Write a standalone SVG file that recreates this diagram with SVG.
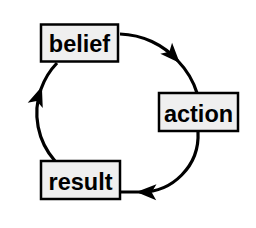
<svg xmlns="http://www.w3.org/2000/svg" width="256" height="228" viewBox="0 0 256 228">
<defs>
<marker id="arr" markerUnits="userSpaceOnUse" markerWidth="24" markerHeight="24" viewBox="-16 -8 18 16" refX="0" refY="0" orient="auto">
<path d="M2,0 L-13,-6 L-9.5,0 L-13,6 Z" fill="#000"/>
</marker>
<style>
.box{fill:#efefef;stroke:#000;stroke-width:2.5}
.lbl{font-family:"Liberation Sans",Arial,sans-serif;font-weight:bold;font-size:23.5px;fill:#000;text-anchor:middle}
.edge{fill:none;stroke:#000;stroke-width:3.2;marker-mid:url(#arr)}
</style>
</defs>
<rect width="256" height="228" fill="#fff"/>
<g id="connectors">
<path class="edge" d="M120,34 A81,81 0 0 1 178,61 A81,81 0 0 1 197,93"/>
<path class="edge" d="M198,132 A57,57 0 0 1 139,192 L120,192"/>
<path class="edge" d="M55,161 A72,72 0 0 1 41,89 A72,72 0 0 1 57,63"/>
</g>
<g id="belief">
<rect class="box" x="41" y="24.5" width="77" height="37"/>
<text class="lbl" x="79.5" y="52">belief</text>
</g>
<g id="action">
<rect class="box" x="159" y="93" width="79" height="38"/>
<text class="lbl" x="198.5" y="122">action</text>
</g>
<g id="result">
<rect class="box" x="41" y="161" width="79" height="38"/>
<text class="lbl" x="80.5" y="190">result</text>
</g>
</svg>
